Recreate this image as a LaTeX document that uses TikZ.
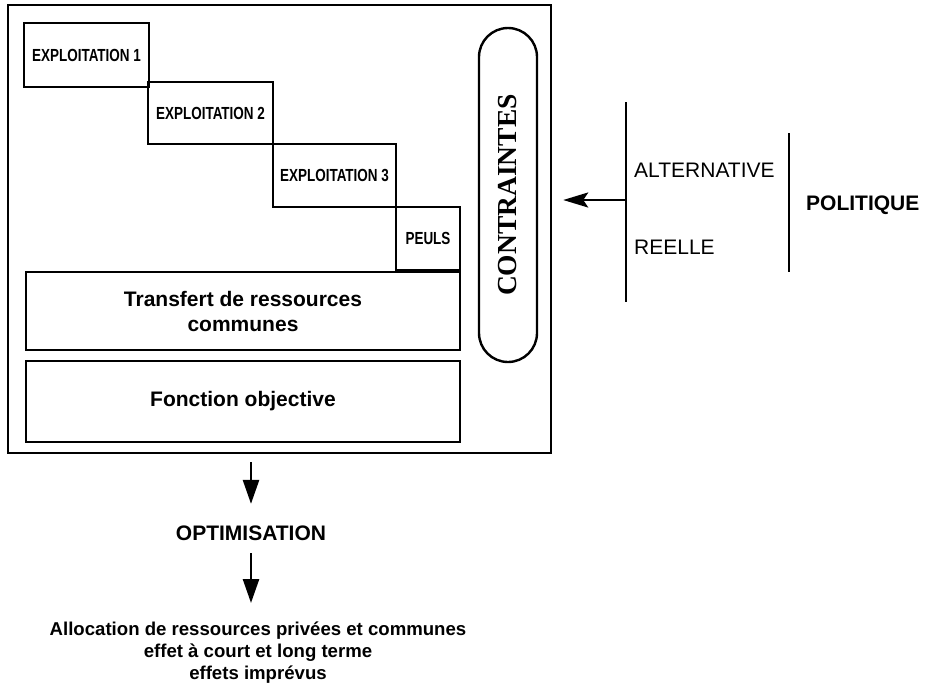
\documentclass[tikz,border=0pt]{standalone}
\usepackage{fontspec}
\setmainfont{Liberation Sans}
\newfontfamily\serifgras{Liberation Serif}
\newfontfamily\etroite[FakeStretch=0.77]{Liberation Sans}
\usetikzlibrary{arrows.meta}

\begin{document}
\begin{tikzpicture}[x=1pt,y=-1pt,
        boite/.style={draw, line width=2.4pt, inner sep=0pt},
        exploit/.style={boite, font=\etroite\bfseries\fontsize{17.5}{19}\selectfont},
        bloc/.style={boite, minimum width=434pt, align=center, font=\bfseries\fontsize{21}{25}\selectfont},
        texte/.style={inner sep=0pt},
        barre/.style={line width=2.8pt},
        fleche/.style={line width=2.6pt, -{Triangle[length=24pt,width=16pt]}},
        flechegauche/.style={line width=2.6pt, -{Stealth[length=25pt,width=15pt,inset=5pt]}}]
        \useasboundingbox (0,0) rectangle (928,686);
        % cadre du modele
        \node[draw, line width=2.8pt, minimum width=543pt, minimum height=448pt] (cadre) at (279.5,229) {};
        \node[exploit, minimum width=125pt, minimum height=64pt] (ex1) at (86.5,55) {EXPLOITATION 1};
        \node[exploit, minimum width=125pt, minimum height=62pt] (ex2) at (210.5,113) {EXPLOITATION 2};
        \node[exploit, minimum width=123pt, minimum height=63pt] (ex3) at (334.5,175.5) {EXPLOITATION 3};
        \node[exploit, minimum width=64pt, minimum height=63pt] (peuls) at (428,238.5) {PEULS};
        \node[bloc, minimum height=78pt] (transfert) at (243,311) {Transfert de ressources\\communes};
        \node[bloc, minimum height=81pt] (fonction) at (243,401.5) {Fonction objective};
        \node[boite, rounded corners=29pt, rotate=90, minimum width=334pt, minimum height=58pt,
            font=\serifgras\bfseries\fontsize{27.5}{30}\selectfont] (contr) at (508,195) {CONTRAINTES};
        % politique
        \draw[barre] (626,102) -- (626,302);
        \draw[barre] (789,133) -- (789,272);
        \coordinate (depart) at (626,200);
        \draw[flechegauche, shorten >=25pt] (depart) -- (contr.south |- depart);
        \node[texte, anchor=west, font=\fontsize{21}{24}\selectfont] (alt) at (634,170) {ALTERNATIVE};
        \node[texte, anchor=west, font=\fontsize{21}{24}\selectfont] (reel) at (634,247) {REELLE};
        \node[texte, anchor=west, font=\bfseries\fontsize{21}{24}\selectfont] (pol) at (806,205) {POLITIQUE};
        % optimisation
        \node[texte, font=\bfseries\fontsize{21}{24}\selectfont] (opt) at (251,533) {OPTIMISATION};
        \node[texte, anchor=north, align=center, font=\bfseries\fontsize{18.6}{22}\selectfont] (alloc) at (258,621.5)
            {Allocation de ressources privées et communes\\effet à court et long terme\\effets imprévus};
        \draw[fleche, shorten <=8pt, shorten >=21.5pt] (cadre.south -| opt.north) -- (opt.north);
        \draw[fleche, shorten <=12.5pt, shorten >=18.5pt] (opt.south) -- (opt.south |- alloc.north);
\end{tikzpicture}
\end{document}
